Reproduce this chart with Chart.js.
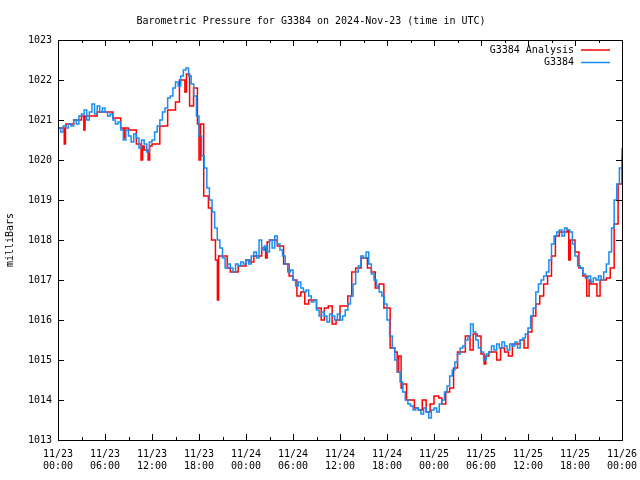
<!DOCTYPE html>
<html>
<head>
<meta charset="utf-8">
<script src="https://cdn.jsdelivr.net/npm/chart.js@4"></script>
<style>
  html, body { margin: 0; padding: 0; background: #fff; }
  #wrap { width: 640px; height: 480px; }
</style>
</head>
<body>
<div id="wrap"><canvas id="pressure"></canvas></div>
<script>
var dayLabels = ["11/23", "11/24", "11/25", "11/26"];
var pressureTicks = [1013, 1014, 1015, 1016, 1017, 1018, 1019, 1020, 1021, 1022, 1023];

// station readings, one every 20 minutes from 11/23 00:00 (one row per hour)
var stationStepHours = 1 / 3;
var stationValues = [
  1020.8, 1020.7, 1020.85,   1020.8, 1020.9, 1020.85,   1021.0, 1020.9, 1021.1,
  1021.15, 1021.25, 1021.0,  1021.2, 1021.4, 1021.15,   1021.35, 1021.2, 1021.3,
  1021.2, 1021.1, 1021.15,   1021.0, 1020.9, 1020.95,   1020.75, 1020.5, 1020.75,
  1020.6, 1020.45, 1020.65,  1020.55, 1020.3, 1020.5,   1020.4, 1020.2, 1020.45,
  1020.5, 1020.7, 1020.85,   1021.0, 1021.2, 1021.3,    1021.55, 1021.6, 1021.8,
  1021.95, 1021.85, 1022.1,  1022.25, 1022.3, 1022.1,   1021.9, 1021.6, 1021.1,
  1020.6, 1020.1, 1019.8,    1019.3, 1019.0, 1018.7,    1018.3, 1018.0, 1017.8,
  1017.55, 1017.3, 1017.4,   1017.3, 1017.2, 1017.4,    1017.35, 1017.45, 1017.4,
  1017.5, 1017.4, 1017.6,    1017.7, 1017.55, 1018.0,   1017.75, 1017.85, 1017.7,
  1018.0, 1017.8, 1018.1,    1017.9, 1017.75, 1017.6,   1017.4, 1017.2, 1017.25,
  1017.0, 1016.85, 1016.95,  1016.8, 1016.7, 1016.75,   1016.6, 1016.45, 1016.5,
  1016.25, 1016.1, 1016.2,   1016.1, 1015.95, 1016.15,  1016.1, 1016.0, 1016.15,
  1016.0, 1016.1, 1016.25,   1016.4, 1016.6, 1016.9,    1017.2, 1017.35, 1017.6,
  1017.55, 1017.7, 1017.4,   1017.15, 1017.0, 1016.85,  1016.7, 1016.6, 1016.4,
  1016.0, 1015.6, 1015.3,    1015.0, 1014.7, 1014.45,   1014.2, 1014.0, 1013.9,
  1013.85, 1013.75, 1013.8,  1013.75, 1013.65, 1013.8,  1013.7, 1013.55, 1013.75,
  1013.8, 1013.7, 1013.9,    1014.0, 1014.2, 1014.35,   1014.6, 1014.75, 1014.95,
  1015.15, 1015.3, 1015.35,  1015.5, 1015.6, 1015.9,    1015.7, 1015.5, 1015.3,
  1015.2, 1015.0, 1015.15,   1015.2, 1015.35, 1015.25,  1015.4, 1015.3, 1015.45,
  1015.35, 1015.25, 1015.4,  1015.35, 1015.45, 1015.3,  1015.5, 1015.55, 1015.65,
  1015.8, 1016.1, 1016.3,    1016.7, 1016.9, 1017.0,    1017.1, 1017.2, 1017.5,
  1017.9, 1018.1, 1018.2,    1018.25, 1018.1, 1018.3,   1018.25, 1018.2, 1017.9,
  1017.6, 1017.35, 1017.3,   1017.15, 1017.05, 1017.1,  1016.95, 1017.05, 1017.0,
  1017.1, 1017.0, 1017.2,    1017.4, 1017.7, 1018.3,    1019.0, 1019.4, 1019.8,
  1020.3
];

// analysis values, hours since 11/23 00:00
var analysisHours = [
  0, 0.8, 0.95, 1, 2, 3, 3.3, 3.45, 4, 5, 6, 7, 8, 8.4, 8.55, 9, 10, 10.6, 10.8, 11,
  11.5, 11.7, 12, 13, 14, 15, 15.5, 16.2, 16.4, 16.8, 17.3, 17.8, 18, 18.2, 18.6, 19.2,
  19.6, 20.1, 20.35, 20.5, 21, 21.6, 22, 23, 24, 24.5, 25, 26, 26.5, 26.7, 27, 28, 28.8,
  29.5, 30, 30.5, 31, 31.5, 32, 33, 33.6, 34, 34.5, 35, 35.5, 36, 37, 37.5, 38, 38.7,
  39.5, 40, 40.5, 41, 41.6, 42.4, 43, 43.3, 43.5, 43.8, 44, 44.5, 45, 45.5, 46, 46.5,
  47, 47.5, 48, 48.6, 49, 49.5, 50, 50.5, 51, 52, 52.6, 53, 53.5, 54, 54.4, 54.6, 55,
  56, 56.5, 57, 57.5, 58, 59, 59.5, 60, 60.5, 61, 61.5, 62, 62.5, 63, 63.5, 64, 65,
  65.2, 65.4, 66, 66.5, 67, 67.5, 67.8, 68, 68.8, 69.2, 70, 70.5, 71, 71.5, 72
];
var analysisValues = [
  1020.8, 1020.4, 1020.8, 1020.9, 1021.0, 1021.1, 1020.75, 1021.1, 1021.1, 1021.2,
  1021.2, 1021.05, 1020.8, 1020.55, 1020.8, 1020.75, 1020.4, 1020.0, 1020.35, 1020.25,
  1020.0, 1020.35, 1020.4, 1020.85, 1021.25, 1021.45, 1022.0, 1021.7, 1022.15, 1021.35,
  1021.8, 1020.9, 1020.0, 1020.9, 1019.1, 1018.8, 1018.0, 1017.5, 1016.5, 1017.6,
  1017.6, 1017.3, 1017.2, 1017.35, 1017.5, 1017.45, 1017.6, 1017.8, 1017.55, 1017.95,
  1018.0, 1017.85, 1017.4, 1017.1, 1017.0, 1016.6, 1016.7, 1016.4, 1016.5, 1016.3,
  1016.0, 1016.3, 1016.35, 1015.9, 1016.0, 1016.35, 1016.6, 1017.2, 1017.3, 1017.55,
  1017.3, 1017.2, 1016.8, 1016.9, 1016.3, 1015.3, 1015.2, 1014.7, 1015.1, 1014.3,
  1014.4, 1014.0, 1014.0, 1013.8, 1013.75, 1014.0, 1013.7, 1013.9, 1014.1, 1014.05,
  1013.9, 1014.2, 1014.3, 1014.8, 1015.2, 1015.6, 1015.25, 1015.65, 1015.6, 1015.15,
  1014.9, 1015.1, 1015.2, 1015.0, 1015.3, 1015.2, 1015.1, 1015.4, 1015.5, 1015.3,
  1015.7, 1016.1, 1016.4, 1016.6, 1016.9, 1017.1, 1017.6, 1018.1, 1018.2, 1018.25,
  1017.5, 1018.0, 1017.7, 1017.3, 1017.1, 1016.6, 1017.0, 1016.9, 1016.6, 1017.0,
  1017.05, 1017.3, 1018.4, 1019.4, 1020.1
];

var monoFont = "'DejaVu Sans Mono', 'Liberation Mono', monospace";

Chart.defaults.color = '#000';
Chart.defaults.font.family = monoFont;
Chart.defaults.font.size = 10;

var stationPoints = stationValues.map(function (v, i) {
  return { x: i * stationStepHours, y: v };
});
var analysisPoints = analysisValues.map(function (v, i) {
  return { x: analysisHours[i], y: v };
});

// gnuplot style frame with inward ticks on all four sides
const framePlugin = {
  id: 'frame',
  afterDatasetsDraw: function (chart) {
    const ctx = chart.ctx;
    const a = chart.chartArea;
    const xs = chart.scales.x;
    const ys = chart.scales.y;

    ctx.save();
    ctx.strokeStyle = '#000';
    ctx.lineWidth = 1;
    ctx.beginPath();
    for (let h = 0; h <= 72; h += 3) {
      const px = Math.round(xs.getPixelForValue(h)) + 0.5;
      const len = (h % 6 === 0) ? 6 : 3;
      ctx.moveTo(px, a.bottom); ctx.lineTo(px, a.bottom - len);
      ctx.moveTo(px, a.top); ctx.lineTo(px, a.top + len);
    }
    pressureTicks.forEach(function (p) {
      const py = Math.round(ys.getPixelForValue(p)) + 0.5;
      ctx.moveTo(a.left, py); ctx.lineTo(a.left + 6, py);
      ctx.moveTo(a.right, py); ctx.lineTo(a.right - 6, py);
    });
    ctx.stroke();
    ctx.strokeRect(Math.round(a.left) + 0.5, Math.round(a.top) + 0.5,
      Math.round(a.right - a.left), Math.round(a.bottom - a.top));

    // key, top right inside the plot
    ctx.font = '10px ' + monoFont;
    ctx.textAlign = 'right';
    ctx.textBaseline = 'middle';
    const keyOrder = [1, 0];
    keyOrder.forEach(function (di, row) {
      const ds = chart.data.datasets[di];
      const y = a.top + 10 + row * 12.5;
      ctx.fillStyle = '#000';
      ctx.fillText(ds.label, a.right - 48, y);
      ctx.strokeStyle = ds.borderColor;
      ctx.lineWidth = 1.5;
      ctx.beginPath();
      ctx.moveTo(a.right - 41, y);
      ctx.lineTo(a.right - 12, y);
      ctx.stroke();
    });
    ctx.restore();
  }
};

var pressureChart = new Chart(document.getElementById('pressure').getContext('2d'), {
  type: 'line',
  data: {
    datasets: [{
      label: 'G3384',
      data: stationPoints,
      borderColor: '#1a8cf0',
      borderWidth: 1.5,
      stepped: true,
      pointRadius: 0,
      order: 1
    }, {
      label: 'G3384 Analysis',
      data: analysisPoints,
      borderColor: '#ff0000',
      borderWidth: 1.5,
      stepped: true,
      pointRadius: 0,
      order: 2
    }]
  },
  options: {
    responsive: true,
    maintainAspectRatio: false,
    animation: false,
    events: [],
    layout: { padding: { left: 0, right: 18, top: 0, bottom: 0 } },
    plugins: {
      legend: { display: false },
      tooltip: { enabled: false },
      title: {
        display: true,
        text: 'Barometric Pressure for G3384 on 2024-Nov-23 (time in UTC)',
        font: { size: 10, weight: 'normal', lineHeight: 1.2 },
        padding: { top: 15, bottom: 13 }
      }
    },
    scales: {
      x: {
        type: 'linear',
        min: 0,
        max: 72,
        grid: { display: false, drawTicks: false },
        border: { display: false },
        ticks: {
          stepSize: 6,
          padding: 8,
          maxRotation: 0,
          autoSkip: false,
          font: { size: 10 },
          callback: function (v) {
            const day = dayLabels[Math.floor(v / 24)];
            const hr = v % 24;
            return [day, (hr < 10 ? '0' : '') + hr + ':00'];
          }
        },
        afterFit: function (scale) {
          scale.height = 40;
          scale.paddingLeft = 0;
          scale.paddingRight = 0;
        }
      },
      y: {
        min: 1013,
        max: 1023,
        grid: { display: false, drawTicks: false },
        border: { display: false },
        title: {
          display: true,
          text: 'milliBars',
          font: { size: 10 },
          padding: { top: 4, bottom: 0 }
        },
        ticks: {
          stepSize: 1,
          padding: 6,
          font: { size: 10 },
          callback: function (v) { return String(v); }
        },
        afterFit: function (scale) { scale.width = 58; }
      }
    }
  },
  plugins: [framePlugin]
});
</script>
</body>
</html>
